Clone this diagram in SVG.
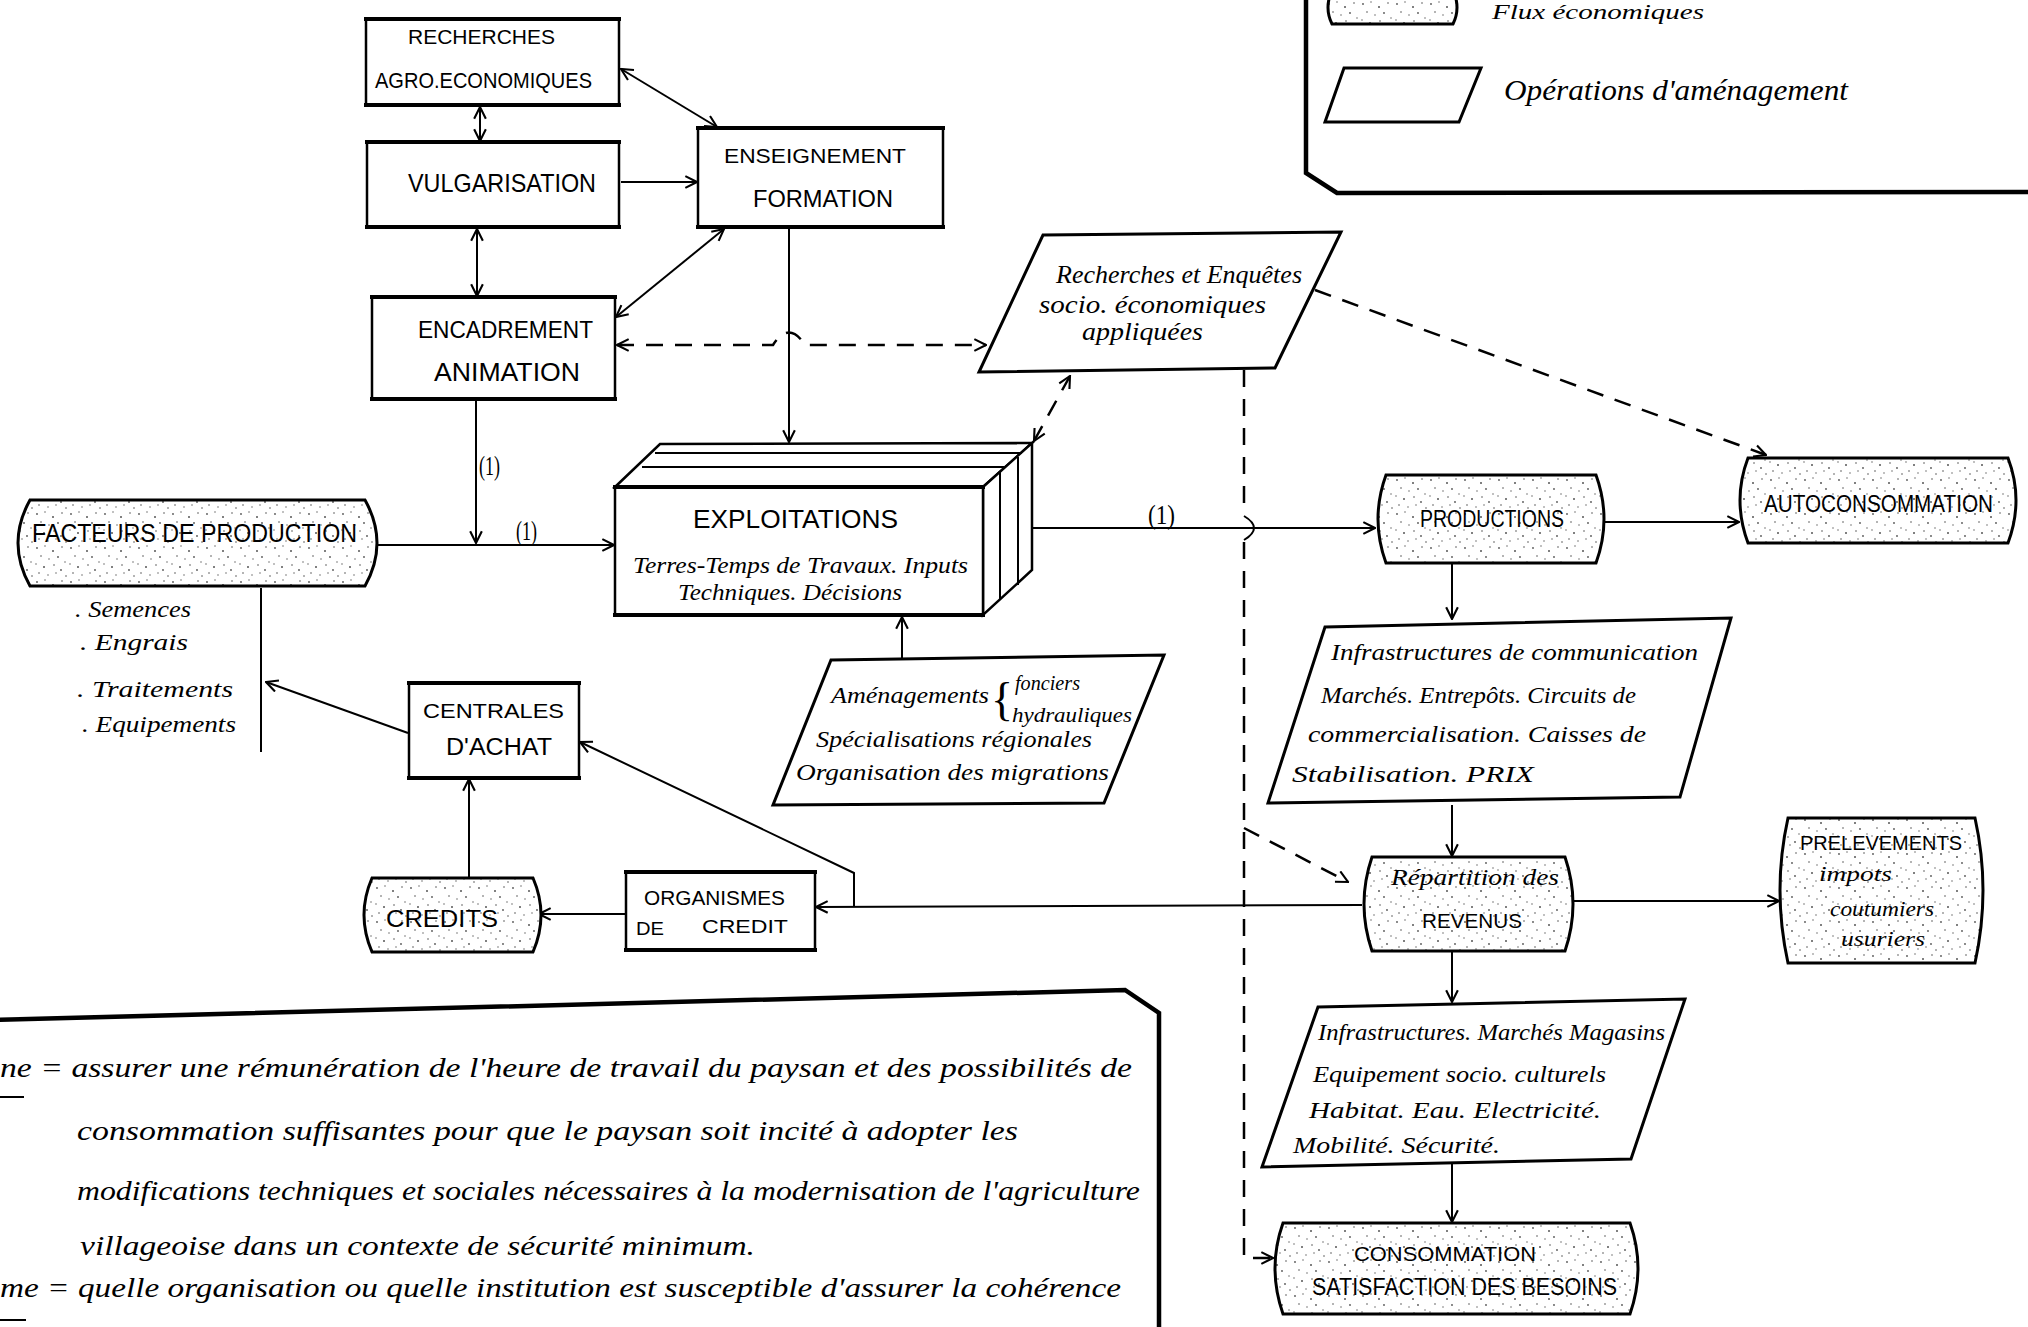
<svg xmlns="http://www.w3.org/2000/svg" width="2028" height="1327" viewBox="0 0 2028 1327">
<defs>
<style>
.box{fill:#fff;stroke:#000;stroke-width:2.5}
.edge{fill:none;stroke:#000;stroke-width:4;stroke-linecap:square}
.drum{fill:url(#stip);stroke:#000;stroke-width:3}
.para{fill:#fff;stroke:#000;stroke-width:3;stroke-linejoin:miter}
.ln{fill:none;stroke:#000;stroke-width:2}
.dash{fill:none;stroke:#000;stroke-width:2.5;stroke-dasharray:17 12}
.frame{fill:none;stroke:#000;stroke-width:4.5}
.cap{font-family:"Liberation Sans",Arial,sans-serif;font-size:22px;fill:#000}
.hand{font-family:"Liberation Serif","Times New Roman",serif;font-style:italic;font-size:23px;fill:#000}
.par{font-family:"Liberation Serif","Times New Roman",serif;font-style:italic;font-size:27px;fill:#000}
</style>
<pattern id="stip" width="34" height="34" patternUnits="userSpaceOnUse">
<rect width="34" height="34" fill="#fff"/>
<g fill="#555">
<circle cx="3" cy="4" r="0.9"/><circle cx="11" cy="2" r="0.7"/><circle cx="19" cy="7" r="1"/><circle cx="28" cy="3" r="0.8"/>
<circle cx="7" cy="12" r="0.8"/><circle cx="15" cy="15" r="0.7"/><circle cx="24" cy="13" r="0.9"/><circle cx="31" cy="18" r="0.7"/>
<circle cx="2" cy="20" r="0.7"/><circle cx="10" cy="23" r="1"/><circle cx="20" cy="21" r="0.8"/><circle cx="27" cy="26" r="0.9"/>
<circle cx="5" cy="29" r="0.8"/><circle cx="14" cy="31" r="0.7"/><circle cx="22" cy="29" r="0.7"/><circle cx="32" cy="32" r="0.8"/>
</g>
</pattern>
<marker id="ah" viewBox="0 0 12 12" refX="11" refY="6" markerWidth="14" markerHeight="14" markerUnits="userSpaceOnUse" orient="auto-start-reverse">
<path d="M1,1 L11,6 L1,11" fill="none" stroke="#000" stroke-width="1.8"/>
</marker>
</defs>
<rect width="2028" height="1327" fill="#fff"/>

<!-- Legend -->
<g id="legend">
<path class="frame" d="M1306,-5 L1306,173 L1337,193 L2030,192"/>
<path class="drum" d="M1332,-10 L1453,-10 Q1461,8 1453,24 L1332,24 Q1324,8 1332,-10 Z"/>
<text class="hand" x="1492" y="19" style="font-size:22px" textLength="212" lengthAdjust="spacingAndGlyphs">Flux économiques</text>
<polygon class="para" points="1344,68 1481,68 1459,122 1325,122"/>
<text class="hand" x="1504" y="100" style="font-size:30px" textLength="344" lengthAdjust="spacingAndGlyphs">Opérations d'aménagement</text>
</g>

<!-- Connectors -->
<g id="connectors">
<path class="ln" d="M480,107 L480,141" marker-start="url(#ah)" marker-end="url(#ah)"/>
<path class="ln" d="M477,229 L477,296" marker-start="url(#ah)" marker-end="url(#ah)"/>
<path class="ln" d="M621,69 L717,127" marker-start="url(#ah)" marker-end="url(#ah)"/>
<path class="ln" d="M621,182 L697,182" marker-end="url(#ah)"/>
<path class="ln" d="M724,229 L616,317" marker-start="url(#ah)" marker-end="url(#ah)"/>
<path class="dash" d="M617,345 L773,345 Q789,320 805,345 L986,345" marker-start="url(#ah)" marker-end="url(#ah)"/>
<path class="ln" d="M789,229 L789,442" marker-end="url(#ah)"/>
<path class="ln" d="M476,400 L476,543" marker-end="url(#ah)"/>
<path class="ln" d="M377,545 L614,545" marker-end="url(#ah)"/>
<path class="ln" d="M261,588 L261,752"/>
<path class="ln" d="M408,733 L266,682" marker-end="url(#ah)"/>
<path class="ln" d="M469,877 L469,779" marker-end="url(#ah)"/>
<path class="ln" d="M626,914 L539,914" marker-end="url(#ah)"/>
<path class="ln" d="M1362,905 L816,907" marker-end="url(#ah)"/>
<path class="ln" d="M854,907 L854,873 L580,742" marker-end="url(#ah)"/>
<path class="ln" d="M902,658 L902,617" marker-end="url(#ah)"/>
<path class="ln" d="M1032,528 L1375,528" marker-end="url(#ah)"/>
<path class="dash" d="M1244,370 L1244,514"/>
<path class="ln" d="M1244,516 Q1264,528 1244,540"/>
<path class="dash" d="M1244,542 L1244,1258 L1273,1258" marker-end="url(#ah)"/>
<path class="dash" d="M1244,828 L1348,882" marker-end="url(#ah)"/>
<path class="dash" d="M1315,290 L1766,455" marker-end="url(#ah)"/>
<path class="dash" d="M1034,441 L1070,376" marker-start="url(#ah)" marker-end="url(#ah)"/>
<path class="ln" d="M1600,522 L1739,522" marker-end="url(#ah)"/>
<path class="ln" d="M1452,563 L1452,619" marker-end="url(#ah)"/>
<path class="ln" d="M1452,805 L1452,856" marker-end="url(#ah)"/>
<path class="ln" d="M1570,901 L1779,901" marker-end="url(#ah)"/>
<path class="ln" d="M1452,952 L1452,1002" marker-end="url(#ah)"/>
<path class="ln" d="M1452,1163 L1452,1222" marker-end="url(#ah)"/>
<text class="hand" x="479" y="475" style="font-size:27px;font-style:normal" textLength="21" lengthAdjust="spacingAndGlyphs">(1)</text>
<text class="hand" x="516" y="540" style="font-size:27px;font-style:normal" textLength="21" lengthAdjust="spacingAndGlyphs">(1)</text>
<text class="hand" x="1148" y="524" style="font-size:27px;font-style:normal" textLength="27" lengthAdjust="spacingAndGlyphs">(1)</text>
</g>

<!-- Nodes -->
<g id="recherches-agro">
<rect class="box" x="366" y="19" width="253" height="86"/>
<path class="edge" d="M366,19 L619,19 M366,105 L619,105"/>
<text class="cap" x="408" y="44" style="font-size:21px" textLength="147" lengthAdjust="spacingAndGlyphs">RECHERCHES</text>
<text class="cap" x="375" y="88" style="font-size:22px" textLength="217" lengthAdjust="spacingAndGlyphs">AGRO.ECONOMIQUES</text>
</g>
<g id="vulgarisation">
<rect class="box" x="367" y="142" width="252" height="85"/>
<path class="edge" d="M367,142 L619,142 M367,227 L619,227"/>
<text class="cap" x="408" y="192" style="font-size:26px" textLength="188" lengthAdjust="spacingAndGlyphs">VULGARISATION</text>
</g>
<g id="encadrement">
<rect class="box" x="372" y="297" width="243" height="102"/>
<path class="edge" d="M372,297 L615,297 M372,399 L615,399"/>
<text class="cap" x="418" y="338" style="font-size:24px" textLength="175" lengthAdjust="spacingAndGlyphs">ENCADREMENT</text>
<text class="cap" x="434" y="381" style="font-size:25px" textLength="146" lengthAdjust="spacingAndGlyphs">ANIMATION</text>
</g>
<g id="enseignement">
<rect class="box" x="698" y="128" width="245" height="99"/>
<path class="edge" d="M698,128 L943,128 M698,227 L943,227"/>
<text class="cap" x="724" y="163" style="font-size:21px" textLength="182" lengthAdjust="spacingAndGlyphs">ENSEIGNEMENT</text>
<text class="cap" x="753" y="207" style="font-size:24px" textLength="140" lengthAdjust="spacingAndGlyphs">FORMATION</text>
</g>
<g id="recherches-enquetes">
<polygon class="para" points="1043,235 1341,232 1275,368 979,372"/>
<text class="hand" x="1056" y="283" style="font-size:26px" textLength="246" lengthAdjust="spacingAndGlyphs">Recherches et Enquêtes</text>
<text class="hand" x="1039" y="313" style="font-size:26px" textLength="227" lengthAdjust="spacingAndGlyphs">socio. économiques</text>
<text class="hand" x="1082" y="340" style="font-size:26px" textLength="121" lengthAdjust="spacingAndGlyphs">appliquées</text>
</g>
<g id="facteurs">
<path class="drum" d="M30,500 L365,500 Q389,543 365,586 L30,586 Q6,543 30,500 Z"/>
<text class="cap" x="32" y="542" style="font-size:25px" textLength="325" lengthAdjust="spacingAndGlyphs">FACTEURS DE PRODUCTION</text>
<text class="hand" x="75" y="617" style="font-size:24px" textLength="116" lengthAdjust="spacingAndGlyphs">. Semences</text>
<text class="hand" x="80" y="650" style="font-size:24px" textLength="108" lengthAdjust="spacingAndGlyphs">. Engrais</text>
<text class="hand" x="77" y="697" style="font-size:24px" textLength="156" lengthAdjust="spacingAndGlyphs">. Traitements</text>
<text class="hand" x="82" y="732" style="font-size:24px" textLength="154" lengthAdjust="spacingAndGlyphs">. Equipements</text>
</g>
<g id="exploitations">
<polygon class="box" points="615,487 660,444 1032,443 983,487"/>
<polygon class="box" points="983,487 1032,443 1032,570 983,615"/>
<path class="ln" d="M655,453 L1022,453 M642,467 L1004,467 M1000,472 L1000,600 M1018,457 L1018,585"/>
<rect class="box" x="615" y="487" width="368" height="128"/>
<path class="edge" d="M615,487 L983,487 M615,615 L983,615"/>
<text class="cap" x="693" y="528" style="font-size:26px" textLength="205" lengthAdjust="spacingAndGlyphs">EXPLOITATIONS</text>
<text class="hand" x="633" y="573" style="font-size:24px" textLength="335" lengthAdjust="spacingAndGlyphs">Terres-Temps de Travaux. Inputs</text>
<text class="hand" x="678" y="600" style="font-size:24px" textLength="224" lengthAdjust="spacingAndGlyphs">Techniques. Décisions</text>
</g>
<g id="amenagements">
<polygon class="para" points="831,660 1164,655 1104,803 773,805"/>
<text class="hand" x="831" y="703" style="font-size:24px" textLength="158" lengthAdjust="spacingAndGlyphs">Aménagements</text>
<text class="hand" x="991" y="715" style="font-size:46px;font-style:normal">{</text>
<text class="hand" x="1015" y="690" style="font-size:21px" textLength="65" lengthAdjust="spacingAndGlyphs">fonciers</text>
<text class="hand" x="1012" y="722" style="font-size:21px" textLength="120" lengthAdjust="spacingAndGlyphs">hydrauliques</text>
<text class="hand" x="816" y="747" style="font-size:24px" textLength="276" lengthAdjust="spacingAndGlyphs">Spécialisations régionales</text>
<text class="hand" x="796" y="780" style="font-size:24px" textLength="313" lengthAdjust="spacingAndGlyphs">Organisation des migrations</text>
</g>
<g id="centrales">
<rect class="box" x="409" y="683" width="170" height="95"/>
<path class="edge" d="M409,683 L579,683 M409,778 L579,778"/>
<text class="cap" x="423" y="718" style="font-size:21px" textLength="141" lengthAdjust="spacingAndGlyphs">CENTRALES</text>
<text class="cap" x="446" y="755" style="font-size:23px" textLength="106" lengthAdjust="spacingAndGlyphs">D'ACHAT</text>
</g>
<g id="credits">
<path class="drum" d="M372,878 L533,878 Q549,915 533,952 L372,952 Q356,915 372,878 Z"/>
<text class="cap" x="386" y="927" style="font-size:24px" textLength="112" lengthAdjust="spacingAndGlyphs">CREDITS</text>
</g>
<g id="organismes">
<rect class="box" x="626" y="872" width="189" height="78"/>
<path class="edge" d="M626,872 L815,872 M626,950 L815,950"/>
<text class="cap" x="644" y="905" style="font-size:21px" textLength="141" lengthAdjust="spacingAndGlyphs">ORGANISMES</text>
<text class="cap" x="636" y="935" style="font-size:19px" textLength="28" lengthAdjust="spacingAndGlyphs">DE</text>
<text class="cap" x="702" y="933" style="font-size:19px" textLength="86" lengthAdjust="spacingAndGlyphs">CREDIT</text>
</g>
<g id="productions">
<path class="drum" d="M1386,475 L1596,475 Q1612,519 1596,563 L1386,563 Q1370,519 1386,475 Z"/>
<text class="cap" x="1420" y="527" style="font-size:23px" textLength="144" lengthAdjust="spacingAndGlyphs">PRODUCTIONS</text>
</g>
<g id="autoconsommation">
<path class="drum" d="M1748,458 L2008,458 Q2024,500 2008,543 L1748,543 Q1732,500 1748,458 Z"/>
<text class="cap" x="1764" y="512" style="font-size:23px" textLength="229" lengthAdjust="spacingAndGlyphs">AUTOCONSOMMATION</text>
</g>
<g id="infrastructures-communication">
<polygon class="para" points="1325,627 1731,618 1680,797 1268,803"/>
<text class="hand" x="1331" y="660" style="font-size:24px" textLength="367" lengthAdjust="spacingAndGlyphs">Infrastructures de communication</text>
<text class="hand" x="1321" y="703" style="font-size:24px" textLength="315" lengthAdjust="spacingAndGlyphs">Marchés. Entrepôts. Circuits de</text>
<text class="hand" x="1308" y="742" style="font-size:24px" textLength="338" lengthAdjust="spacingAndGlyphs">commercialisation. Caisses de</text>
<text class="hand" x="1292" y="782" style="font-size:24px" textLength="242" lengthAdjust="spacingAndGlyphs">Stabilisation.  PRIX</text>
</g>
<g id="revenus">
<path class="drum" d="M1372,857 L1565,857 Q1581,904 1565,951 L1372,951 Q1356,904 1372,857 Z"/>
<text class="hand" x="1391" y="885" style="font-size:24px" textLength="168" lengthAdjust="spacingAndGlyphs">Répartition des</text>
<text class="cap" x="1422" y="928" style="font-size:20px" textLength="100" lengthAdjust="spacingAndGlyphs">REVENUS</text>
</g>
<g id="prelevements">
<path class="drum" d="M1788,818 L1975,818 Q1991,890 1975,963 L1788,963 Q1772,890 1788,818 Z"/>
<text class="cap" x="1800" y="850" style="font-size:20px" textLength="162" lengthAdjust="spacingAndGlyphs">PRELEVEMENTS</text>
<text class="hand" x="1819" y="881" style="font-size:22px" textLength="73" lengthAdjust="spacingAndGlyphs">impots</text>
<text class="hand" x="1830" y="916" style="font-size:22px" textLength="104" lengthAdjust="spacingAndGlyphs">coutumiers</text>
<text class="hand" x="1841" y="946" style="font-size:22px" textLength="84" lengthAdjust="spacingAndGlyphs">usuriers</text>
</g>
<g id="infrastructures-marches">
<polygon class="para" points="1318,1007 1685,999 1631,1159 1262,1167"/>
<text class="hand" x="1318" y="1040" style="font-size:24px" textLength="347" lengthAdjust="spacingAndGlyphs">Infrastructures. Marchés Magasins</text>
<text class="hand" x="1313" y="1082" style="font-size:24px" textLength="293" lengthAdjust="spacingAndGlyphs">Equipement socio. culturels</text>
<text class="hand" x="1309" y="1118" style="font-size:24px" textLength="292" lengthAdjust="spacingAndGlyphs">Habitat. Eau. Electricité.</text>
<text class="hand" x="1293" y="1153" style="font-size:24px" textLength="207" lengthAdjust="spacingAndGlyphs">Mobilité. Sécurité.</text>
</g>
<g id="consommation">
<path class="drum" d="M1283,1223 L1630,1223 Q1646,1268 1630,1314 L1283,1314 Q1267,1268 1283,1223 Z"/>
<text class="cap" x="1354" y="1261" style="font-size:21px" textLength="182" lengthAdjust="spacingAndGlyphs">CONSOMMATION</text>
<text class="cap" x="1312" y="1295" style="font-size:23px" textLength="305" lengthAdjust="spacingAndGlyphs">SATISFACTION DES BESOINS</text>
</g>

<!-- Bottom-left text panel -->
<g id="notes">
<path class="frame" d="M-5,1020 L1125,990 L1159,1013 L1159,1332"/>
<text class="par" x="0" y="1077" textLength="1132" lengthAdjust="spacingAndGlyphs">ne = assurer une rémunération de l'heure de travail du paysan et des possibilités de</text>
<path class="ln" d="M0,1097 L24,1097"/>
<text class="par" x="77" y="1140" textLength="941" lengthAdjust="spacingAndGlyphs">consommation suffisantes pour que le paysan soit incité à adopter les</text>
<text class="par" x="77" y="1200" textLength="1063" lengthAdjust="spacingAndGlyphs">modifications techniques et sociales nécessaires à la modernisation de l'agriculture</text>
<text class="par" x="80" y="1255" textLength="675" lengthAdjust="spacingAndGlyphs">villageoise dans un contexte de sécurité minimum.</text>
<text class="par" x="0" y="1297" textLength="1121" lengthAdjust="spacingAndGlyphs">me = quelle organisation ou quelle institution est susceptible d'assurer la cohérence</text>
<path class="ln" d="M0,1320 L26,1320"/>
</g>
</svg>
